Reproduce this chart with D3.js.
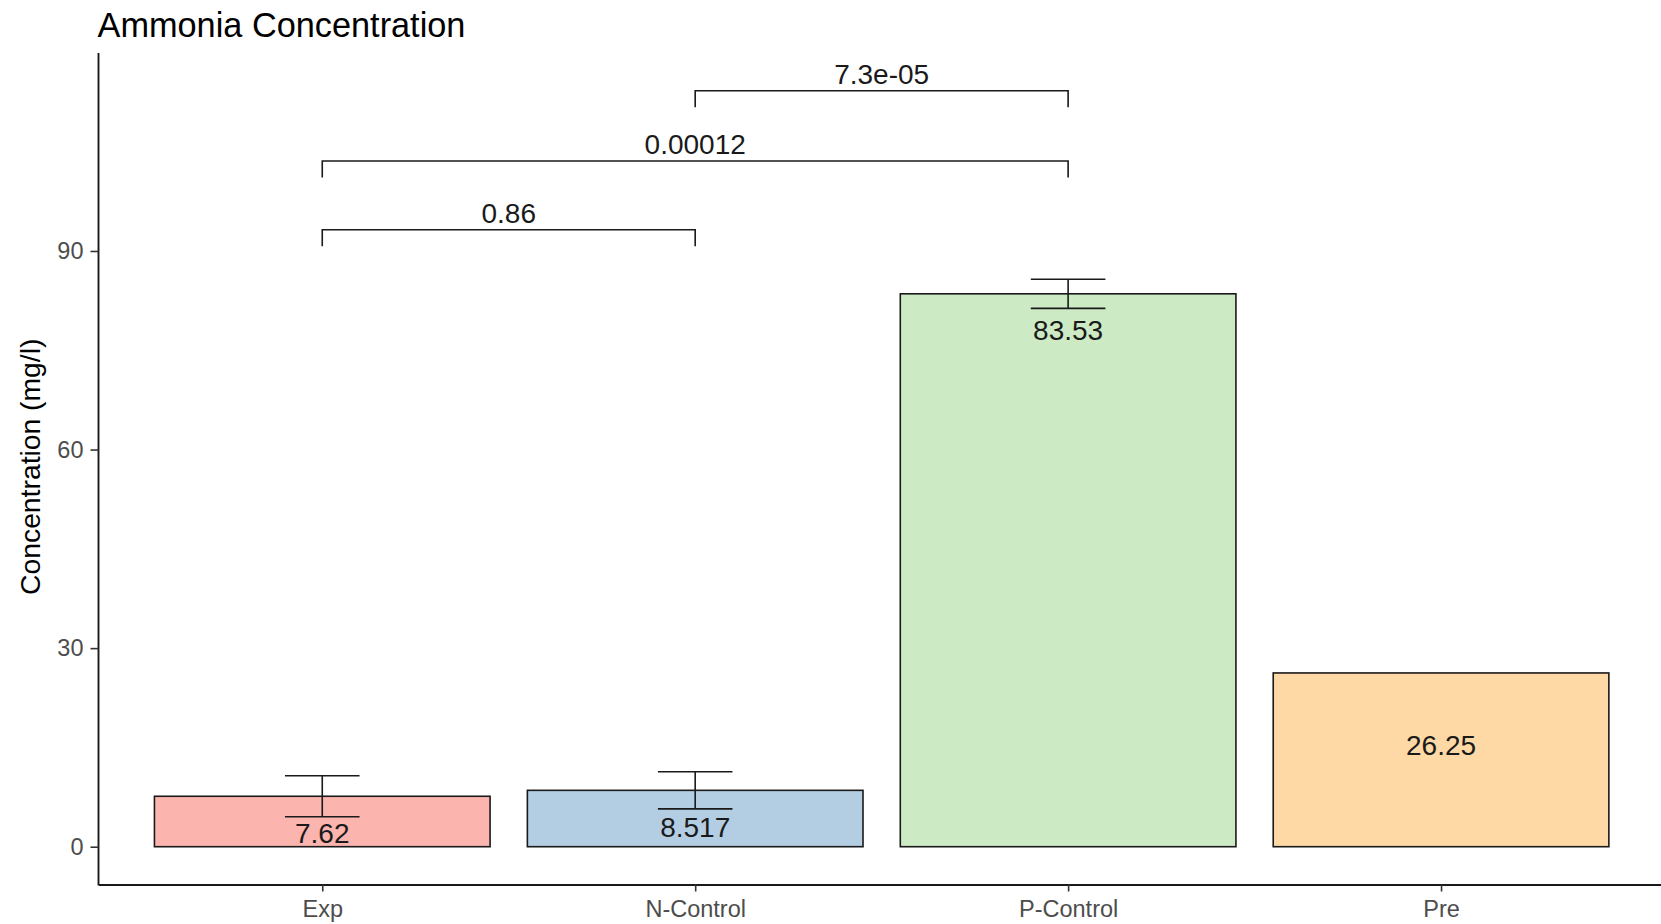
<!DOCTYPE html>
<html>
<head>
<meta charset="utf-8">
<title>Ammonia Concentration</title>
<script src="https://cdn.jsdelivr.net/npm/d3@7/dist/d3.min.js"></script>
<style>
  html, body { margin: 0; padding: 0; background: #ffffff; }
  svg { display: block; overflow: hidden; }
  text { font-family: "Liberation Sans", Arial, Helvetica, sans-serif; }
</style>
</head>
<body>
<svg id="chart" width="1661" height="924"></svg>
<script>
// Group means (mg/l) with their standard deviations
const categories = ["Exp", "N-Control", "P-Control", "Pre"];
const means = [7.62, 8.517, 83.53, 26.25];
const sds = [3.1, 2.8, 2.2, null];
const meanLabels = ["7.62", "8.517", "83.53", "26.25"];
const fills = ["#FBB4AE", "#B3CDE3", "#CCEBC5", "#FED9A6"];

// Pairwise comparisons and their p-values
const compareFrom = ["Exp", "Exp", "N-Control"];
const compareTo = ["N-Control", "P-Control", "P-Control"];
const pValues = ["0.86", "0.00012", "7.3e-05"];
const bracketLevels = [93.2, 103.6, 114.2];
const bracketTip = 2.5;

const yTicks = [0, 30, 60, 90];

(function draw() {
  const svg = d3.select("#chart");
  const panel = { left: 98.5, top: 53, bottom: 884.5, right: 1664.8 };

  // ggplot-style 5% expansion of the data range
  const yMax = d3.max(bracketLevels);
  const y = d3.scaleLinear()
    .domain([-0.05 * yMax, yMax * 1.05])
    .range([panel.bottom, panel.top]);

  const x = d3.scalePoint()
    .domain(categories)
    .range([panel.left, panel.right])
    .padding(0.6);
  const step = x.step();
  const barW = step * 0.9;
  const capW = step * 0.2;

  const data = categories.map((c, i) => ({
    cat: c, mean: means[i], sd: sds[i], label: meanLabels[i], fill: fills[i]
  }));

  // Bars
  svg.append("g").selectAll("rect")
    .data(data)
    .join("rect")
    .attr("x", d => x(d.cat) - barW / 2)
    .attr("width", barW)
    .attr("y", d => y(d.mean))
    .attr("height", d => y(0) - y(d.mean))
    .attr("fill", d => d.fill)
    .attr("stroke", "#1a1a1a")
    .attr("stroke-width", 1.6);

  // Error bars (mean ± sd)
  const eb = svg.append("g")
    .attr("stroke", "#1a1a1a")
    .attr("stroke-width", 1.6)
    .attr("fill", "none");
  data.filter(d => d.sd != null).forEach(d => {
    const cx = x(d.cat);
    const hi = y(d.mean + d.sd), lo = y(d.mean - d.sd);
    eb.append("line").attr("x1", cx).attr("x2", cx).attr("y1", hi).attr("y2", lo);
    eb.append("line").attr("x1", cx - capW / 2).attr("x2", cx + capW / 2).attr("y1", hi).attr("y2", hi);
    eb.append("line").attr("x1", cx - capW / 2).attr("x2", cx + capW / 2).attr("y1", lo).attr("y2", lo);
  });

  // Mean labels inside the bars
  svg.append("g").selectAll("text")
    .data(data)
    .join("text")
    .attr("x", d => x(d.cat))
    .attr("y", d => y(d.mean) + (d.sd != null ? 46.5 : 82))
    .attr("text-anchor", "middle")
    .attr("font-size", 28)
    .attr("fill", "#1a1a1a")
    .text(d => d.label);

  // Significance brackets
  const br = svg.append("g");
  pValues.forEach((p, i) => {
    const x1 = x(compareFrom[i]), x2 = x(compareTo[i]);
    const yl = y(bracketLevels[i]), yt = y(bracketLevels[i] - bracketTip);
    br.append("path")
      .attr("d", `M${x1},${yt}V${yl}H${x2}V${yt}`)
      .attr("fill", "none")
      .attr("stroke", "#1a1a1a")
      .attr("stroke-width", 1.6);
    br.append("text")
      .attr("x", (x1 + x2) / 2)
      .attr("y", yl - 6.5)
      .attr("text-anchor", "middle")
      .attr("font-size", 28)
      .attr("fill", "#1a1a1a")
      .text(p);
  });

  // Axes
  const yAxis = svg.append("g")
    .attr("transform", `translate(${panel.left},0)`)
    .call(d3.axisLeft(y).tickValues(yTicks).tickSize(8).tickSizeOuter(0).tickPadding(7));
  const xAxis = svg.append("g")
    .attr("transform", `translate(0,${panel.bottom})`)
    .call(d3.axisBottom(x).tickSize(7).tickSizeOuter(0).tickPadding(8.5));

  [yAxis, xAxis].forEach(g => {
    g.select(".domain").attr("stroke", "#1a1a1a").attr("stroke-width", 1.9);
    g.selectAll(".tick line").attr("stroke", "#333333").attr("stroke-width", 1.6);
    g.selectAll(".tick text")
      .attr("font-size", 23.5)
      .attr("fill", "#4d4d4d")
      .attr("font-family", "'Liberation Sans', Arial, sans-serif");
  });
  // Close the corner where the two axis lines meet
  yAxis.select(".domain").attr("d", `M0,${panel.top}V${panel.bottom + 0.95}`);

  // Titles
  svg.append("text")
    .attr("x", 97.5)
    .attr("y", 37)
    .attr("font-size", 34.3)
    .attr("fill", "#000000")
    .text("Ammonia Concentration");

  svg.append("text")
    .attr("transform", `translate(39.5,${(panel.top + panel.bottom) / 2 - 2}) rotate(-90)`)
    .attr("text-anchor", "middle")
    .attr("font-size", 28.3)
    .attr("fill", "#000000")
    .text("Concentration (mg/l)");
})();
</script>
</body>
</html>
